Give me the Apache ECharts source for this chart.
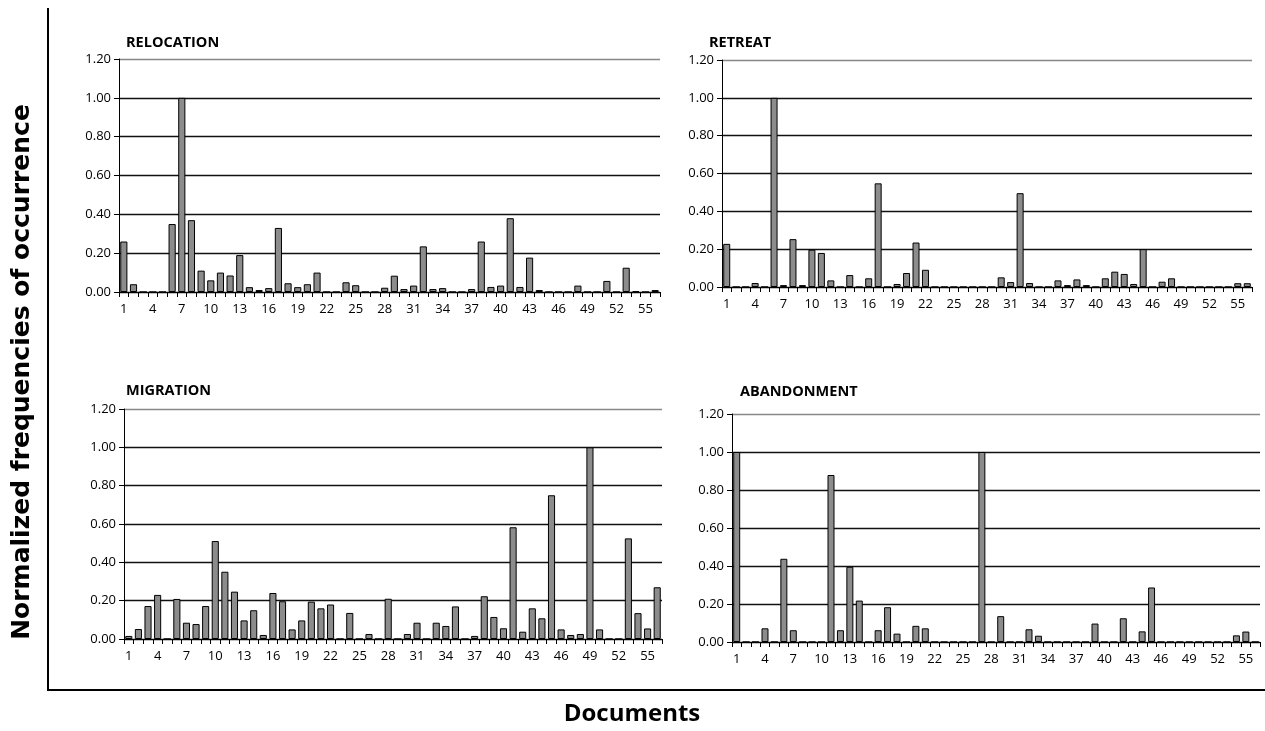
<!DOCTYPE html>
<html>
<head>
<meta charset="utf-8">
<script src="https://cdn.jsdelivr.net/npm/echarts@6/dist/echarts.min.js"></script>
<style>html,body{margin:0;padding:0;background:#fff}#c{width:1265px;height:731px}</style>
</head>
<body>
<div id="c"></div>
<script>
const categories = ['1','2','3','4','5','6','7','8','9','10','11','12','13','14','15','16','17','18','19','20',
'21','22','23','24','25','26','27','28','29','30','31','32','33','34','35','36','37','38','39','40',
'41','42','43','44','45','46','47','48','49','50','51','52','53','54','55','56'];
const yTicks = [0, 0.2, 0.4, 0.6, 0.8, 1.0, 1.2];
const panelTitles = ['RELOCATION', 'RETREAT', 'MIGRATION', 'ABANDONMENT'];

const relocation = [0.26,0.04,0,0,0,0.35,1.00,0.37,0.11,0.06,0.10,0.085,0.19,0.025,0.01,0.02,0.33,0.045,0.025,0.04,
0.10,0,0,0.05,0.035,0,0,0.022,0.084,0.015,0.033,0.235,0.015,0.02,0,0,0.015,0.26,0.026,0.033,
0.38,0.026,0.177,0.01,0,0,0,0.033,0,0,0.057,0,0.125,0.005,0,0.01];
const retreat = [0.228,0,0,0.021,0,1.00,0.01,0.253,0.01,0.197,0.18,0.035,0,0.063,0,0.046,0.548,0,0.016,0.074,
0.235,0.091,0,0,0,0,0,0,0,0.051,0.026,0.496,0.021,0,0,0.035,0.01,0.04,0.01,0,
0.046,0.081,0.069,0.016,0.20,0,0.028,0.046,0,0,0,0,0,0,0.02,0.02];
const migration = [0.016,0.052,0.172,0.23,0,0.209,0.085,0.078,0.172,0.511,0.351,0.247,0.097,0.15,0.021,0.24,0.197,0.05,0.097,0.195,
0.16,0.18,0,0.136,0,0.026,0,0.21,0,0.026,0.085,0,0.085,0.068,0.17,0,0.016,0.223,0.115,0.056,
0.583,0.038,0.16,0.108,0.75,0.05,0.021,0.026,1.00,0.05,0,0,0.525,0.135,0.055,0.27];
const abandonment = [1.00,0,0,0.072,0,0.438,0.062,0,0,0,0.879,0.062,0.396,0.218,0,0.062,0.183,0.044,0,0.085,
0.072,0,0,0,0,0,1.00,0,0.136,0,0,0.067,0.033,0,0,0,0,0,0.097,0,
0,0.125,0,0.056,0.287,0,0,0,0,0,0,0,0,0.035,0.055,0];

const seriesData = [relocation, retreat, migration, abandonment];
const grids = [
  {left:119, top:59, width:541, height:233},
  {left:722, top:60, width:530, height:227},
  {left:124, top:409, width:538, height:230},
  {left:732, top:414, width:528, height:228}
];
const titlePos = [
  {left:121, top:30},
  {left:704, top:30},
  {left:121, top:378},
  {left:735, top:379}
];
const font = 'Open Sans, Liberation Sans, sans-serif';

const chart = echarts.init(document.getElementById('c'), null, {renderer:'canvas'});
const option = {
  backgroundColor:'#fff',
  animation:false,
  title: panelTitles.map((t,i)=>({text:t, left:titlePos[i].left, top:titlePos[i].top,
    textStyle:{fontFamily:font, fontSize:14.5, fontWeight:'bold', color:'#000'}})),
  grid: grids,
  xAxis: grids.map((g,i)=>({
    type:'category', gridIndex:i, data:categories, boundaryGap:true,
    axisLine:{show:true, lineStyle:{color:'#000', width:1}},
    axisTick:{show:true, interval:0, length:5, inside:false, lineStyle:{color:'#000'}},
    axisLabel:{interval:2, margin:11, fontFamily:font, fontSize:13, color:'#000'},
    splitLine:{show:false}
  })),
  yAxis: grids.map((g,i)=>({
    type:'value', gridIndex:i, min:yTicks[0], max:yTicks[yTicks.length-1], interval:0.2,
    axisLine:{show:true, lineStyle:{color:'#000', width:1}},
    axisTick:{show:true, length:5, lineStyle:{color:'#000'}},
    axisLabel:{margin:8, fontFamily:font, fontSize:13, color:'#000', formatter:v=>v.toFixed(2)},
    splitLine:{show:true, lineStyle:{color:['#000','#111','#111','#111','#111','#111','#888'], width:1.3}}
  })),
  series: seriesData.map((d,i)=>({
    type:'bar', xAxisIndex:i, yAxisIndex:i, data:d,
    barCategoryGap:'26%',
    itemStyle:{color:'#8c8c8c', borderColor:'#000', borderWidth:1}
  })),
  graphic: [
    {type:'line', shape:{x1:48, y1:8, x2:48, y2:690}, style:{stroke:'#000', lineWidth:2}},
    {type:'line', shape:{x1:47, y1:690, x2:1265, y2:690}, style:{stroke:'#000', lineWidth:2}},
    {type:'text', rotation:Math.PI/2, x:22, y:372,
      style:{text:'Normalized frequencies of occurrence', font:'bold 25px "DejaVu Sans", sans-serif', fill:'#000', textAlign:'center', textVerticalAlign:'middle'}},
    {type:'text', x:632, y:714,
      style:{text:'Documents', font:'bold 24px "Open Sans", sans-serif', fill:'#000', textAlign:'center', textVerticalAlign:'middle'}}
  ]
};
chart.setOption(option);
</script>
</body>
</html>
